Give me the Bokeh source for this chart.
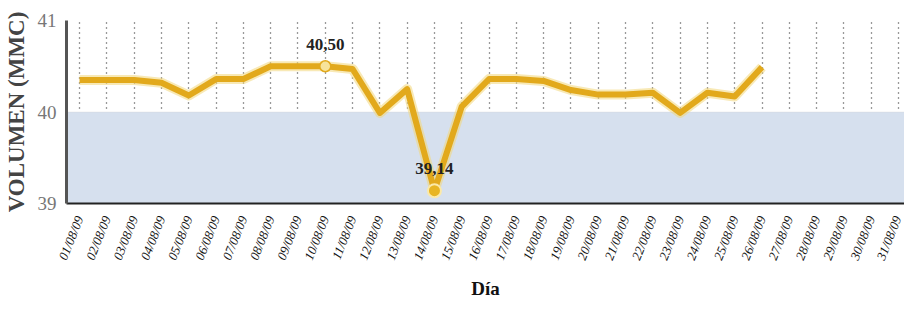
from bokeh.plotting import figure
from bokeh.models import FixedTicker, BoxAnnotation, Label
from bokeh.embed import file_html
from bokeh.resources import INLINE

days = list(range(1, 32))
tick_labels = ["%02d/08/09" % d for d in days]
data_days = list(range(1, 27))
volumes = [40.35, 40.35, 40.35, 40.32, 40.18, 40.36, 40.36, 40.50, 40.50, 40.50,
           40.47, 39.99, 40.25, 39.14, 40.06, 40.36, 40.36, 40.34, 40.24, 40.19,
           40.19, 40.21, 39.99, 40.21, 40.17, 40.49]
max_day, max_val, max_text = 10, 40.50, "40,50"
min_day, min_val, min_text = 14, 39.14, "39,14"
threshold = 40.0

SERIF = "Liberation Serif"

p = figure(output_backend="svg", toolbar_location=None,
           frame_width=838, frame_height=183,
           min_border_left=66, min_border_right=0, min_border_top=20, min_border_bottom=100,
           x_range=(0.52, 31.22), y_range=(39, 41))
p.outline_line_color = None
p.background_fill_color = "white"

p.add_layout(BoxAnnotation(top=threshold, bottom=39, fill_color="#D6E0EE", fill_alpha=1.0, level="underlay"))

# axes
p.xaxis.ticker = FixedTicker(ticks=days)
p.xaxis.major_label_overrides = {d: t for d, t in zip(days, tick_labels)}
p.xaxis.major_label_orientation = 1.19
p.xaxis.major_label_text_font = SERIF
p.xaxis.major_label_text_font_style = "italic"
p.xaxis.major_label_text_font_size = "13px"
p.xaxis.major_label_text_color = "#111111"
p.xaxis.major_tick_line_color = None
p.xaxis.minor_tick_line_color = None
p.xaxis.axis_line_color = "#222222"
p.xaxis.axis_line_width = 2
p.xaxis.major_label_standoff = 7
p.xaxis.axis_label = "Día"
p.xaxis.axis_label_text_font = SERIF
p.xaxis.axis_label_text_font_style = "bold"
p.xaxis.axis_label_text_font_size = "19px"
p.xaxis.axis_label_text_color = "#111111"
p.xaxis.axis_label_standoff = 10

p.yaxis.ticker = FixedTicker(ticks=[39, 40, 41])
p.yaxis.major_label_text_font = SERIF
p.yaxis.major_label_text_font_size = "19px"
p.yaxis.major_label_text_color = "#777777"
p.yaxis.major_tick_line_color = None
p.yaxis.minor_tick_line_color = None
p.yaxis.axis_line_color = "#555555"
p.yaxis.axis_line_width = 3
p.yaxis.major_label_standoff = 4
p.yaxis.axis_label = "VOLUMEN (MMC)"
p.yaxis.axis_label_text_font = SERIF
p.yaxis.axis_label_text_font_style = "bold"
p.yaxis.axis_label_text_font_size = "23px"
p.yaxis.axis_label_text_color = "#444444"
p.yaxis.axis_label_standoff = 6

p.ygrid.grid_line_color = None
p.xgrid.ticker = FixedTicker(ticks=days)
p.xgrid.grid_line_color = "#111111"
p.xgrid.grid_line_alpha = 0.85
p.xgrid.grid_line_dash = "1 4"
p.xgrid.grid_line_width = 1.3

# line with glow
p.line(data_days, volumes, line_color="#F3D77A", line_width=10, line_alpha=0.55, line_join="round")
p.line(data_days, volumes, line_color="#E2A91C", line_width=6, line_join="round")

p.scatter([max_day], [max_val], size=11, fill_color="#F7E39A", line_color="#E2A91C", line_width=1.5)
p.scatter([min_day], [min_val], size=13, fill_color="#E8B523", line_color="#FBE9A8", line_width=2)

p.add_layout(Label(x=max_day, y=max_val, text=max_text, x_offset=0, y_offset=16,
                   text_align="center", text_baseline="bottom", text_font=SERIF,
                   text_font_style="bold", text_font_size="17px", text_color="#222222"))
p.add_layout(Label(x=min_day, y=min_val, text=min_text, x_offset=0, y_offset=17,
                   text_align="center", text_baseline="bottom", text_font=SERIF,
                   text_font_style="bold", text_font_size="17px", text_color="#222222"))

open("out.html", "w").write(file_html(p, INLINE))
